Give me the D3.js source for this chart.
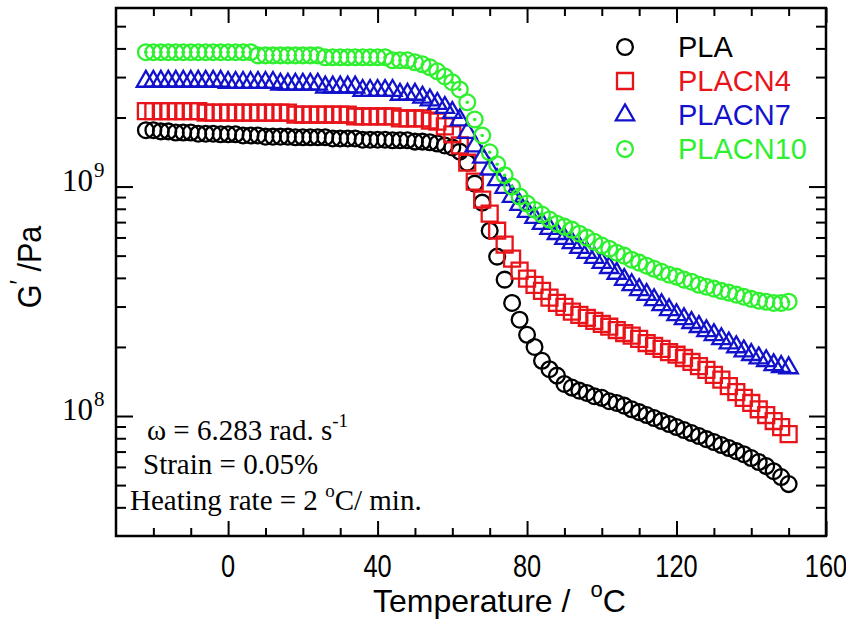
<!DOCTYPE html>
<html>
<head>
<meta charset="utf-8">
<script src="https://cdn.jsdelivr.net/npm/d3@7/dist/d3.min.js"></script>
<style>
  body { margin: 0; background: #fff; }
  svg { display: block; }
  .tick line { stroke: #000; stroke-width: 2; }
</style>
</head>
<body>
<svg id="chart" width="846" height="619"></svg>
<script>
// ─── Data (temperature in °C, storage modulus G' in Pa) ─────────────────────
const temps = [-22,-20,-18,-16,-14,-12,-10,-8,-6,-4,-2,0,2,4,6,8,10,12,14,16,18,20,22,24,26,28,30,32,34,36,38,40,42,44,46,48,50,52,54,56,58,60,62,64,66,68,70,72,74,76,78,80,82,84,86,88,90,92,94,96,98,100,102,104,106,108,110,112,114,116,118,120,122,124,126,128,130,132,134,136,138,140,142,144,146,148,150];

const pla = [1.76e9,1.76e9,1.74e9,1.74e9,1.72e9,1.72e9,1.72e9,1.70e9,1.70e9,1.70e9,1.69e9,1.69e9,1.69e9,1.67e9,1.67e9,1.67e9,1.65e9,1.65e9,1.65e9,1.65e9,1.64e9,1.64e9,1.64e9,1.64e9,1.64e9,1.62e9,1.62e9,1.62e9,1.62e9,1.60e9,1.60e9,1.60e9,1.60e9,1.59e9,1.59e9,1.59e9,1.57e9,1.57e9,1.56e9,1.54e9,1.51e9,1.48e9,1.42e9,1.27e9,1.03e9,8.51e8,6.42e8,4.95e8,3.93e8,3.11e8,2.63e8,2.26e8,2.00e8,1.74e8,1.60e8,1.50e8,1.38e8,1.33e8,1.29e8,1.26e8,1.22e8,1.20e8,1.16e8,1.14e8,1.11e8,1.07e8,1.04e8,1.01e8,9.80e7,9.51e7,9.23e7,8.95e7,8.69e7,8.43e7,8.18e7,7.93e7,7.70e7,7.47e7,7.25e7,7.03e7,6.82e7,6.56e7,6.30e7,6.05e7,5.75e7,5.42e7,5.05e7];

const placn4 = [2.13e9,2.13e9,2.13e9,2.13e9,2.13e9,2.13e9,2.13e9,2.13e9,2.10e9,2.10e9,2.10e9,2.10e9,2.10e9,2.10e9,2.10e9,2.10e9,2.10e9,2.10e9,2.10e9,2.10e9,2.06e9,2.06e9,2.06e9,2.06e9,2.06e9,2.06e9,2.06e9,2.06e9,2.02e9,2.02e9,2.02e9,2.02e9,2.02e9,2.02e9,1.98e9,1.98e9,1.98e9,1.98e9,1.94e9,1.92e9,1.83e9,1.69e9,1.51e9,1.27e9,1.05e9,8.78e8,7.62e8,6.42e8,5.58e8,4.85e8,4.30e8,3.97e8,3.73e8,3.51e8,3.28e8,3.11e8,2.99e8,2.85e8,2.76e8,2.68e8,2.60e8,2.52e8,2.45e8,2.37e8,2.30e8,2.24e8,2.17e8,2.08e8,2.02e8,1.96e8,1.90e8,1.85e8,1.79e8,1.72e8,1.65e8,1.59e8,1.51e8,1.44e8,1.35e8,1.27e8,1.20e8,1.14e8,1.07e8,1.01e8,9.51e7,8.95e7,8.34e7];

const placn7 = [2.87e9,2.87e9,2.87e9,2.87e9,2.87e9,2.87e9,2.87e9,2.87e9,2.87e9,2.87e9,2.87e9,2.84e9,2.84e9,2.84e9,2.84e9,2.84e9,2.84e9,2.84e9,2.79e9,2.79e9,2.79e9,2.79e9,2.79e9,2.79e9,2.71e9,2.71e9,2.71e9,2.71e9,2.71e9,2.62e9,2.62e9,2.62e9,2.62e9,2.62e9,2.52e9,2.52e9,2.52e9,2.45e9,2.38e9,2.30e9,2.21e9,2.10e9,1.95e9,1.72e9,1.50e9,1.34e9,1.19e9,1.07e9,9.90e8,9.05e8,8.34e8,7.78e8,7.32e8,6.89e8,6.56e8,6.23e8,5.93e8,5.69e8,5.42e8,5.15e8,4.90e8,4.66e8,4.43e8,4.18e8,3.93e8,3.73e8,3.55e8,3.38e8,3.21e8,3.05e8,2.90e8,2.76e8,2.65e8,2.55e8,2.45e8,2.35e8,2.26e8,2.17e8,2.08e8,2.00e8,1.92e8,1.85e8,1.79e8,1.74e8,1.67e8,1.64e8,1.62e8];

const placn10 = [3.85e9,3.85e9,3.85e9,3.85e9,3.85e9,3.85e9,3.85e9,3.85e9,3.85e9,3.85e9,3.85e9,3.85e9,3.85e9,3.85e9,3.85e9,3.73e9,3.73e9,3.73e9,3.73e9,3.73e9,3.73e9,3.73e9,3.73e9,3.73e9,3.66e9,3.66e9,3.66e9,3.66e9,3.66e9,3.66e9,3.66e9,3.66e9,3.66e9,3.55e9,3.55e9,3.55e9,3.48e9,3.41e9,3.31e9,3.18e9,3.02e9,2.85e9,2.65e9,2.33e9,1.96e9,1.67e9,1.41e9,1.25e9,1.12e9,1.00e9,9.05e8,8.43e8,7.93e8,7.55e8,7.18e8,6.89e8,6.69e8,6.49e8,6.23e8,5.99e8,5.75e8,5.53e8,5.36e8,5.15e8,5.00e8,4.80e8,4.66e8,4.52e8,4.38e8,4.25e8,4.13e8,4.05e8,3.93e8,3.85e8,3.73e8,3.66e8,3.59e8,3.51e8,3.45e8,3.38e8,3.31e8,3.24e8,3.18e8,3.15e8,3.11e8,3.11e8,3.15e8];

const seriesNames = ["PLA", "PLACN4", "PLACN7", "PLACN10"];
const seriesValues = [pla, placn4, placn7, placn10];
const seriesColors = ["#000000", "#e8141a", "#1212cc", "#2ef02e"];
const seriesShapes = ["circle", "square", "triangle", "dotcircle"];

const xMajorTicks = [0, 40, 80, 120, 160];
const xMinorTicks = [-20, -10, 10, 20, 30, 50, 60, 70, 90, 100, 110, 130, 140, 150];
const yMajorTicks = [1e8, 1e9];
const yMajorLabels = [["10", "8"], ["10", "9"]];
const yMinorTicks = [4e7, 5e7, 6e7, 7e7, 8e7, 9e7, 2e8, 3e8, 4e8, 5e8, 6e8, 7e8, 8e8, 9e8, 2e9, 3e9, 4e9, 5e9];

// ─── Layout ────────────────────────────────────────────────────────────────
const W = 846, H = 619;
const plot = { left: 116, right: 826, top: 8, bottom: 536 };

const svg = d3.select("#chart");
svg.append("rect").attr("width", W).attr("height", H).attr("fill", "#fff");

const x = d3.scaleLinear().domain([-30, 160]).range([plot.left, plot.right]);
const y = d3.scaleLog().domain([3e7, 6e9]).range([plot.bottom, plot.top]);

// ─── Axes (ticks pointing inwards on all four sides) ─────────────────────────
function addAxis(axisFn, scale, values, size, transform) {
  svg.append("g")
    .attr("transform", transform)
    .call(axisFn(scale).tickValues(values).tickSizeInner(-size).tickSizeOuter(0).tickFormat(""))
    .call(g => g.select(".domain").remove());
}
addAxis(d3.axisBottom, x, xMajorTicks, 15, `translate(0,${plot.bottom})`);
addAxis(d3.axisBottom, x, xMinorTicks, 8, `translate(0,${plot.bottom})`);
addAxis(d3.axisTop, x, xMajorTicks, 15, `translate(0,${plot.top})`);
addAxis(d3.axisTop, x, xMinorTicks, 8, `translate(0,${plot.top})`);
addAxis(d3.axisLeft, y, yMajorTicks, 17, `translate(${plot.left},0)`);
addAxis(d3.axisLeft, y, yMinorTicks, 10, `translate(${plot.left},0)`);
addAxis(d3.axisRight, y, yMajorTicks, 17, `translate(${plot.right},0)`);
addAxis(d3.axisRight, y, yMinorTicks, 10, `translate(${plot.right},0)`);

svg.append("rect")
  .attr("x", plot.left).attr("y", plot.top)
  .attr("width", plot.right - plot.left).attr("height", plot.bottom - plot.top)
  .attr("fill", "none").attr("stroke", "#000").attr("stroke-width", 2.5);

// x tick labels: narrow sans
svg.append("g").selectAll("text")
  .data(xMajorTicks)
  .join("text")
  .attr("transform", d => `translate(${x(d)},${plot.bottom + 41}) scale(0.82,1)`)
  .attr("text-anchor", "middle")
  .attr("font-family", "Liberation Sans, Arial, sans-serif")
  .attr("font-size", 31)
  .text(d => d);

// y tick labels: 10 with superscript exponent, serif
const yLab = svg.append("g").selectAll("text")
  .data(yMajorTicks)
  .join("text")
  .attr("x", 62)
  .attr("y", d => y(d) + 4)
  .attr("font-family", "Liberation Serif, Times New Roman, serif")
  .attr("font-size", 31);
yLab.append("tspan").text((d, i) => yMajorLabels[i][0]);
yLab.append("tspan").attr("dy", -14).attr("dx", 1).attr("font-size", 21).text((d, i) => yMajorLabels[i][1]);

// axis titles
const xTitle = svg.append("text")
  .attr("x", 373).attr("y", 612)
  .attr("font-family", "Liberation Sans, Arial, sans-serif")
  .attr("font-size", 32);
xTitle.append("tspan").text("Temperature /");
xTitle.append("tspan").attr("dx", 20).attr("dy", -15).attr("font-size", 22).text("o");
xTitle.append("tspan").attr("dy", 15).text("C");

const yTitle = svg.append("text")
  .attr("transform", `translate(41,267) rotate(-90) scale(0.9,1)`)
  .attr("text-anchor", "middle")
  .attr("font-family", "Liberation Sans, Arial, sans-serif")
  .attr("font-size", 34);
yTitle.append("tspan").text("G");
yTitle.append("tspan").attr("dy", -13).attr("font-size", 26).text("′");
yTitle.append("tspan").attr("dy", 13).text(" /Pa");

// ─── Markers ───────────────────────────────────────────────────────────────
const symbolFor = {
  circle: d3.symbol().type(d3.symbolCircle).size(195),
  dotcircle: d3.symbol().type(d3.symbolCircle).size(195),
  square: d3.symbol().type(d3.symbolSquare).size(255),
  triangle: d3.symbol().type(d3.symbolTriangle).size(145)
};

function drawMarker(g, shape, color) {
  g.append("path")
    .attr("d", symbolFor[shape]())
    .attr("fill", "none")
    .attr("stroke", color)
    .attr("stroke-width", 2.3);
  if (shape === "dotcircle") {
    g.append("circle").attr("r", 1.8).attr("fill", color);
  }
}

seriesNames.forEach((name, s) => {
  const pts = temps.map((t, i) => ({ t, v: seriesValues[s][i] }));
  svg.append("g")
    .attr("class", "series-" + name)
    .selectAll("g")
    .data(pts)
    .join("g")
    .attr("transform", d => `translate(${x(d.t)},${y(d.v)})`)
    .each(function () { drawMarker(d3.select(this), seriesShapes[s], seriesColors[s]); });
});

// ─── Legend ────────────────────────────────────────────────────────────────
const legendRows = [47, 81, 115, 149];
seriesNames.forEach((name, s) => {
  const g = svg.append("g").attr("transform", `translate(625,${legendRows[s]})`);
  drawMarker(g, seriesShapes[s], seriesColors[s]);
  g.append("text")
    .attr("x", 53).attr("y", 10)
    .attr("font-family", "Liberation Sans, Arial, sans-serif")
    .attr("font-size", 29)
    .attr("fill", seriesColors[s])
    .text(name);
});

// ─── Annotation ────────────────────────────────────────────────────────────
const note = svg.append("g")
  .attr("font-family", "Liberation Serif, Times New Roman, serif")
  .attr("font-size", 29);
const n1 = note.append("text").attr("x", 147).attr("y", 440);
n1.append("tspan").text("ω = 6.283 rad. s");
n1.append("tspan").attr("dy", -13).attr("font-size", 19).text("-1");
note.append("text").attr("x", 143).attr("y", 474).text("Strain = 0.05%");
const n3 = note.append("text").attr("x", 130).attr("y", 510);
n3.append("tspan").text("Heating rate = 2 ");
n3.append("tspan").attr("dy", -13).attr("font-size", 19).text("o");
n3.append("tspan").attr("dy", 13).text("C/ min.");
</script>
</body>
</html>
